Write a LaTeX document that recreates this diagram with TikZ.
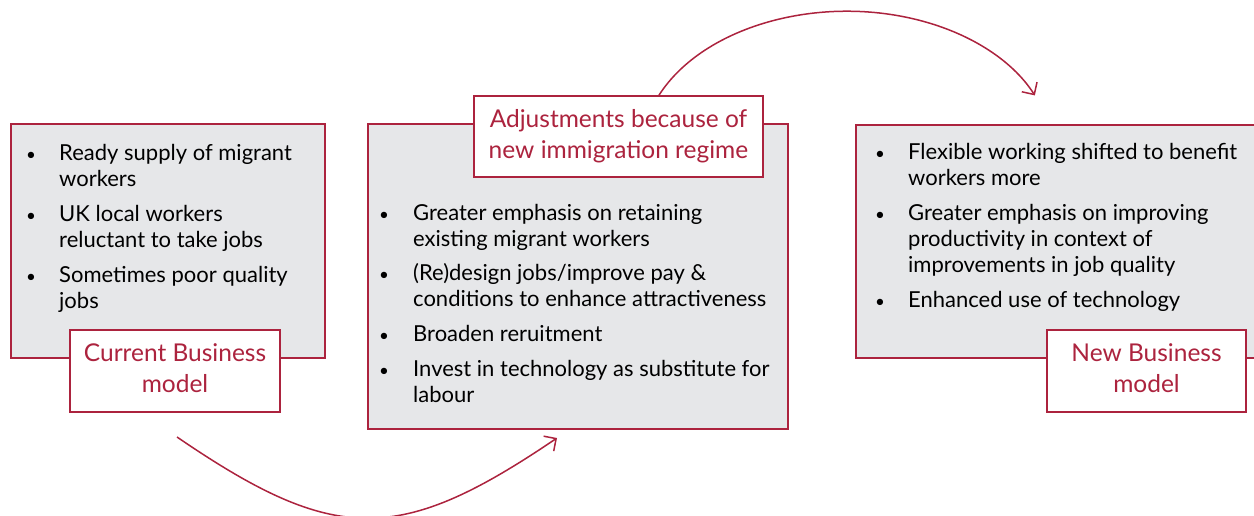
\documentclass[tikz,border=0pt]{standalone}
\usepackage{fontspec}
\setmainfont{Lato}
\usetikzlibrary{arrows.meta}
\definecolor{crim}{RGB}{172,35,62}
\definecolor{panelgray}{RGB}{230,231,233}
\newcommand{\dotmark}{{\fontsize{17}{26}\selectfont •}}
\begin{document}
\begin{tikzpicture}[x=1pt,y=1pt,
  panel/.style={draw=crim, line width=1.6pt, fill=panelgray, inner sep=0pt, anchor=north west},
  tag/.style={draw=crim, line width=1.6pt, fill=white, text=crim, inner sep=0pt,
    font=\fontsize{24.5}{31}\selectfont, align=center, text depth=6pt},
  list/.style={anchor=base west, inner sep=0pt, font=\fontsize{22}{26}\selectfont},
  flow/.style={draw=crim, line width=1.5pt, -{Straight Barb[length=9pt,width=18pt]}}]
\useasboundingbox (0,0) rectangle (1254,-516);

% the three stages
\node[panel, minimum width=314pt, minimum height=234pt] (cur) at (10,-123) {};
\node[panel, minimum width=420pt, minimum height=305pt] (adjp) at (367,-123) {};
\node[panel, minimum width=410pt, minimum height=233pt] (newp) at (855,-124) {};

% bullet lists
\node[list] (curlist) at (26,-161) {\begin{tabular}[t]{@{}p{33pt}@{}l@{}}
\dotmark&Ready supply of migrant\\
&workers\\[9pt]
\dotmark&UK local workers\\
&reluctant to take jobs\\[9pt]
\dotmark&Sometimes poor quality\\
&jobs
\end{tabular}};

\node[list] (adjlist) at (379,-220) {\begin{tabular}[t]{@{}p{34pt}@{}l@{}}
\dotmark&Greater emphasis on retaining\\
&existing migrant workers\\[9pt]
\dotmark&(Re)design jobs/improve pay \&\\
&conditions to enhance attractiveness\\[9pt]
\dotmark&Broaden reruitment\\[9pt]
\dotmark&Invest in technology as substitute for\\
&labour
\end{tabular}};

\node[list] (newlist) at (875,-160) {\begin{tabular}[t]{@{}p{33pt}@{}l@{}}
\dotmark&Flexible working shifted to benefit\\
&workers more\\[9pt]
\dotmark&Greater emphasis on improving\\
&productivity in context of\\
&improvements in job quality\\[9pt]
\dotmark&Enhanced use of technology
\end{tabular}};

% stage labels
\node[tag, minimum width=210pt, minimum height=82pt] (curtag) at (175,-371) {Current Business\\model};
\node[tag, minimum width=289pt, minimum height=81pt] (adjtag) at (618.5,-136.5) {Adjustments because of\\new immigration regime};
\node[tag, minimum width=199pt, minimum height=82pt] (newtag) at (1146.5,-371) {New Business\\model};

% transitions
\coordinate (b0) at (177,-437);
\coordinate (b1) at (557,-438);
\draw[flow] (b0) .. controls (335,-545) and (399,-545) .. (b1);

\coordinate (t0) at (adjtag.north -| 659,0);
\draw[flow] (t0) arc[start angle=156.4, end angle=23.5, x radius=205pt, y radius=140pt];
\end{tikzpicture}
\end{document}
